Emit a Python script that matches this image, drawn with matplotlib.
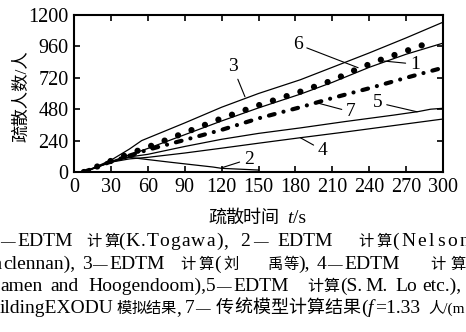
import matplotlib
matplotlib.use("Agg")
import matplotlib.pyplot as plt

# evacuation curves (time s, people)
t1 = [8, 30, 45, 60, 90, 120, 150, 184, 210, 240, 270, 300]
n1 = [0, 80, 130, 180, 285, 390, 490, 595, 685, 800, 900, 985]
t2 = [8, 30, 45, 60, 78, 95, 113, 120, 150]
n2 = [0, 75, 112, 95, 75, 57, 38, 28, 15]
t3 = [8, 30, 45, 55, 90, 120, 150, 184, 210, 240, 270, 300]
n3 = [0, 90, 175, 240, 375, 495, 600, 705, 800, 910, 1025, 1145]
t4 = [8, 30, 45, 60, 90, 120, 150, 184, 220, 260, 300]
n4 = [0, 75, 100, 112, 145, 182, 220, 262, 305, 355, 405]
t5 = [8, 30, 45, 60, 90, 120, 150, 184, 220, 260, 280, 290, 300]
n5 = [0, 80, 115, 135, 195, 250, 295, 337, 385, 435, 462, 480, 487]
t6 = [8, 30, 45, 60, 90, 120, 150, 184, 210, 231, 250, 270, 289]
n6 = [0, 85, 140, 190, 300, 410, 510, 614, 700, 790, 860, 925, 989]
t7 = [8, 30, 45, 60, 90, 120, 150, 184, 210, 240, 270, 300]
n7 = [0, 80, 125, 170, 245, 322, 410, 495, 565, 640, 720, 797]

xticks = list(range(0, 301, 30))
yticks = [0, 240, 480, 720, 960, 1200]

# curve number labels: (text, label pos, pointer target)
curve_labels = [
    ("3", (129, 805), (139, 575)),
    ("6", (182, 975), (231, 797)),
    ("1", (277, 825), (252, 848)),
    ("7", (225, 460), (199, 525)),
    ("5", (247, 530), (279, 460)),
    ("4", (202, 168), (184, 262)),
    ("2", (142, 98), (120, 32)),
]

# caption, cropped at both sides like the source picture
# each line: (baseline px, hidden prefix, right edge of prefix px, segments)
# segment: (x px, text, kind, extra) kind r=roman c=cjk i=italic d=dash
#   extra: cjk pitch in px, or letter spacing in px for roman
caption = [
    (246, "1", 0, [
        (0, "\u2014", "d", None), (17, "EDTM", "r", None), (86, "计", "c", None),
        (104, "算", "c", None), (118, "(K.Togawa),", "r", 1.1), (240, "2", "r", None),
        (253, "\u2014", "d", None), (277, "EDTM", "r", None), (358, "计", "c", None),
        (376, "算", "c", None), (392, "(Nelson and", "r", 2.5)]),
    (269, "Ma", 3, [
        (3, "clennan),", "r", None), (82, "3", "r", None), (92, "\u2014", "d", None),
        (109, "EDTM", "r", None), (180, "计", "c", None), (198, "算", "c", None),
        (214, "(", "r", None), (223, "刘", "c", None), (267, "禹", "c", None),
        (283, "等", "c", None), (298, "),", "r", None), (317, "4", "r", None),
        (327, "\u2014", "d", None), (344, "EDTM", "r", None), (430, "计", "c", None),
        (450, "算", "c", None)]),
    (291, "Da", 0, [
        (0, "amen", "r", None), (50, "and", "r", None), (88, "Hoogendoom),", "r", None),
        (206, "5", "r", None), (216, "\u2014", "d", None), (233, "EDTM", "r", None),
        (307, "计算", "c", 16.0), (340, "(S.", "r", None), (365, "M.", "r", None),
        (395, "Lo", "r", None), (422, "etc.),", "r", None)]),
    (313, "6\u2014bu", 0, [
        (0, "ildingEXODU", "r", None), (117, "模拟结果", "c", 14.5), (176, ",", "r", None),
        (185, "7", "r", None), (195, "\u2014", "d", None), (216, "传统模型计算结果", "c", 18.0),
        (361, "(", "r", None), (368, "f", "i", None), (375, "=1.33", "r", None),
        (428, "人/(m·s))", "c", None)]),
]

W, H = 466, 332
plt.rcParams["font.family"] = ["Liberation Serif", "Noto Sans CJK SC"]
RS, CS, DS = 14.0, 11.0, 10.5

fig = plt.figure(figsize=(4.66, 3.32), dpi=100)
renderer = fig.canvas.get_renderer()
ax = fig.add_axes([74 / W, 1 - 172 / H, 369 / W, 157 / H])

lc = "black"
ax.plot(t3, n3, color=lc, lw=0.9)
ax.plot(t1, n1, color=lc, lw=0.9)
ax.plot(t4, n4, color=lc, lw=0.9)
ax.plot(t5, n5, color=lc, lw=0.9)
ax.plot(t2, n2, color=lc, lw=0.9)
ax.plot(t6, n6, color=lc, lw=4.5, linestyle=(0, (0.01, 2.3)), dash_capstyle="round")
ax.plot(t7, n7, color=lc, lw=3, linestyle=(0, (1.4, 2.2, 0.01, 2.2)), dash_capstyle="round")

for txt, pos, tgt in curve_labels:
    ax.annotate(txt, xy=tgt, xytext=pos, ha="center", va="center", fontsize=14,
                arrowprops=dict(arrowstyle="-", lw=0.8, color=lc, shrinkA=1, shrinkB=0))

ax.set_xlim(0, 300)
ax.set_ylim(0, 1200)
ax.set_xticks(xticks)
ax.set_yticks(yticks)
ax.tick_params(direction="in", top=True, right=True, length=4, width=1.2,
               labelsize=14.5, pad=4)
for sp in ax.spines.values():
    sp.set_linewidth(1.5)


def put(x, y, s, kind, extra=None, size=None, **kw):
    style = "italic" if kind == "i" else "normal"
    if size is None:
        size = {"r": RS, "i": RS, "c": CS, "d": DS}[kind]
        if kind == "c" and extra is not None:
            size = max(CS, extra * 0.72)
    if extra is None:
        fig.text(x / W, 1 - y / H, s, fontsize=size, style=style, va="baseline", **kw)
        return
    for ch in s:
        t = fig.text(x / W, 1 - y / H, ch, fontsize=size, style=style, va="baseline", **kw)
        if kind == "c":
            x += extra
        else:
            x += t.get_window_extent(renderer).width + extra if ch != " " else size * 0.35 + extra


# axis titles
fig.text(22 / W, 1 - 96 / H, "疏散人数/人", rotation=90, fontsize=12.5, ha="center", va="center")
put(208, 223, "疏散时间", "c", 17.5, size=13)
put(287, 223, "t", "i")
put(293, 223, "/s", "r")

for yb, hidden, hx, segs in caption:
    put(hx, yb, hidden, "r", ha="right")
    for x, s, kind, extra in segs:
        put(x, yb, s, kind, extra)

fig.savefig("out.png", dpi=100)
